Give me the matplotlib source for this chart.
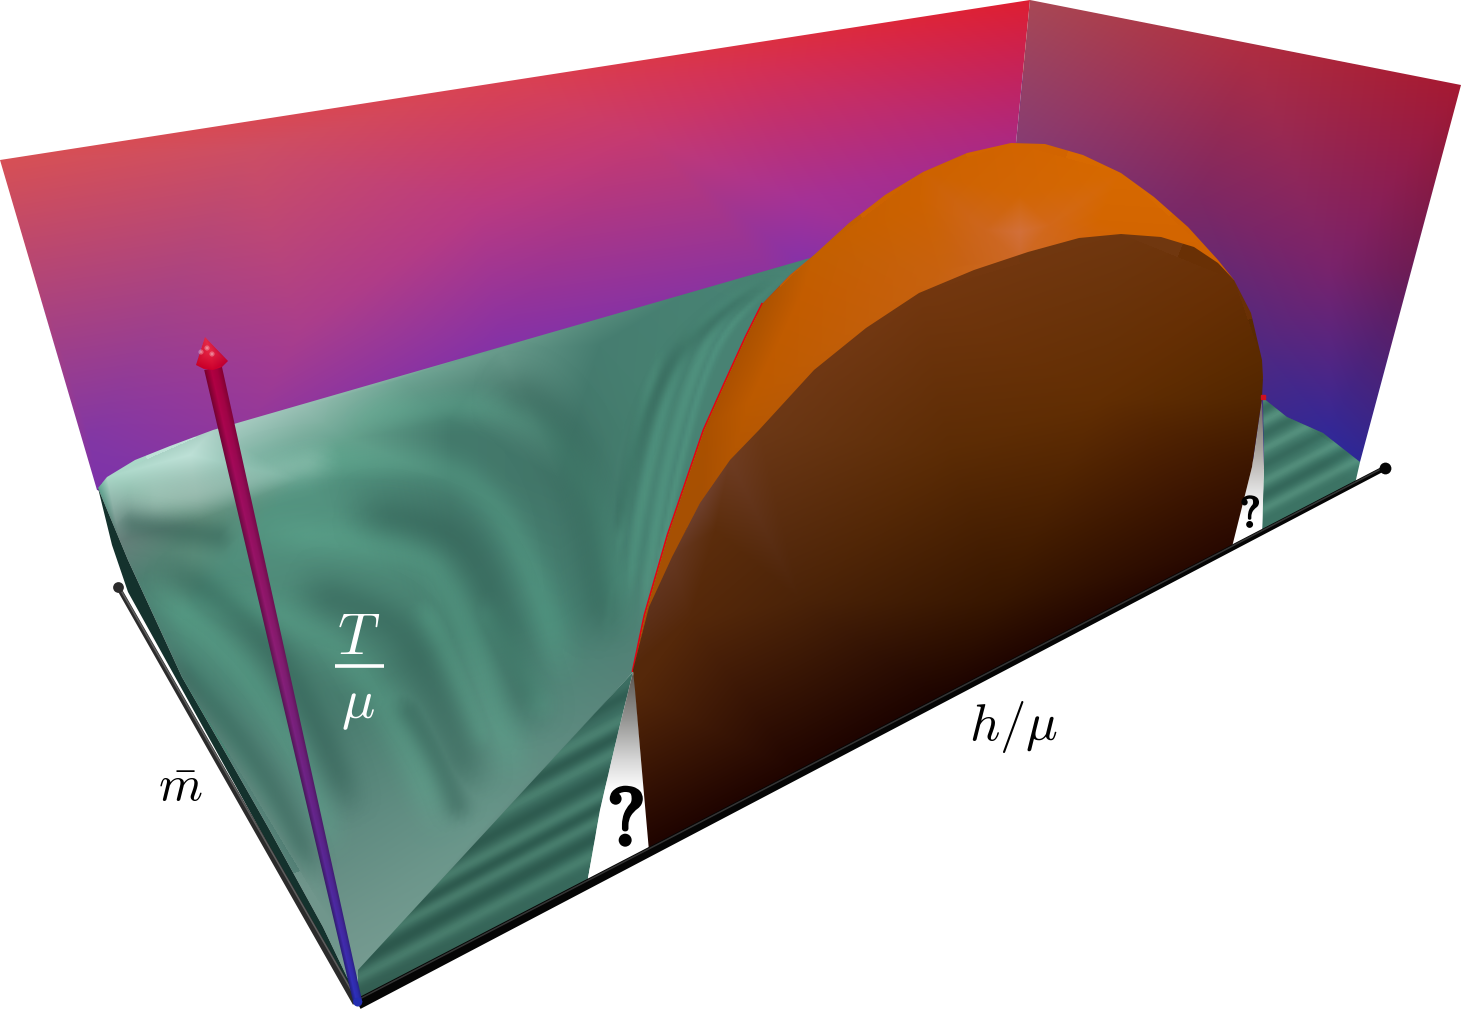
import numpy as np
import matplotlib
matplotlib.use("Agg")
import matplotlib.pyplot as plt
import matplotlib.patheffects as pe
from matplotlib.patches import Polygon, Circle
from matplotlib.tri import Triangulation, LinearTriInterpolator

W, H = 1461, 1009
plt.rcParams['mathtext.fontset'] = 'cm'

# ---------- outlines (picture coordinates) ----------
wall_left = [(0,160),(1030,0),(1016,143),(1016,300),(800,300),(200,520),(97,490)]
wall_right = [(1030,0),(1461,85),(1360,462),(1330,470),(1280,480),(1016,300),(1016,143)]
floor_back = [(98,488),(107,477),(135,460),(170,446),(213,430),(539,336),(810,258),(835,250)]
dome_left = [(633,672),(645,615),(668,535),(704,430),(725,383),(746,337),(763,303),(790,275),(814,255)]
floor_main = floor_back + dome_left[::-1] + [(358,975),(357,990),(347,977),(323,927),(268,827),(228,757),(182,677),(128,560)]
floor_side = [(98,488),(128,560),(182,677),(228,757),(268,827),(323,927),(347,977),(360,992),(350,992),(128,592),(112,545)]
floor_wedge = [(633,672),(358,970),(358,1003),(587,884),(600,810),(618,733)]
floor_right = [(1263,398),(1287,417),(1323,433),(1360,462),(1355,484),(1262,533),(1264,467)]
q_left = [(633,672),(618,733),(600,810),(587,884),(649,851),(641,760),(635,680)]
q_right = [(1262,398),(1252,467),(1232,547),(1262,533),(1264,467)]
dome_back = dome_left + [(849,223),(885,195),(923,172),(967,153),(1011,143),(1045,144),(1083,155),(1121,173),(1154,197),
             (1188,227),(1218,260),(1234,280),(1180,400),(700,700)]
dome_front = [(633,670),(649,607),(672,557),(700,503),(730,460),(759,430),(814,370),(866,328),(919,293),
              (974,270),(1028,252),(1079,238),(1121,234),(1161,237),(1194,247),(1218,263),(1234,280),
              (1251,313),(1262,360),(1263,377),(1262,398),(1252,467),(1232,547),(649,851),(641,760),(635,690)]
red_edge = dome_left[:7]

# ---------- colour samples ----------
wall_left_pts = [(0,160),(500,80),(1030,0),(1016,143),(640,135),(800,200),(300,330),(500,340),(800,262),
                 (90,440),(97,490),(1016,300),(200,520),(800,300),(250,150),(480,210),(760,70)]
wall_left_cols = [(215,80,85),(218,66,82),(222,30,50),(172,40,130),(198,58,112),(165,50,150),(170,62,140),
                  (135,50,165),(135,50,168),(130,55,165),(125,50,170),(130,45,165),(125,50,170),(130,50,168),
                  (205,78,100),(185,58,130),(212,48,85)]
wall_right_pts = [(1030,0),(1250,45),(1461,85),(1017,145),(1200,200),(1330,270),(1263,350),(1330,430),(1360,462),
                  (1280,480),(1016,300),(1410,270)]
wall_right_cols = [(168,72,85),(175,45,65),(165,25,50),(135,60,115),(125,40,100),(120,35,108),(80,40,130),
                   (52,40,150),(45,40,150),(40,40,155),(100,45,130),(110,28,85)]
floor_pts = [(98,488),(107,477),(190,455),(213,430),(300,408),(400,380),(500,350),(810,258),(300,480),(450,480),
             (560,480),(120,540),(200,520),(180,620),(350,700),(200,680),(300,800),(340,930),(360,970),(480,830),
             (633,672),(650,400),(740,300),(560,620),(130,590),(450,640),(640,560),(450,420),(350,440),(600,345),(600,312),(700,285)]
floor_cols = [(90,160,140),(170,215,200),(190,225,215),(172,208,198),(150,190,178),(112,165,148),(105,155,140),
              (72,130,116),(85,150,130),(68,122,108),(66,118,105),(105,130,125),(95,140,122),(78,138,120),(72,124,110),
              (78,136,120),(88,132,122),(112,150,140),(118,155,145),(105,150,138),(85,130,120),(70,128,112),(72,130,116),
              (72,130,115),(75,125,112),(72,128,112),(72,130,115),(68,122,108),(100,160,140),(70,125,112),(88,142,126),(72,130,115)]
wedge_pts = [(633,672),(358,970),(358,1003),(587,884),(618,733),(480,830)]
wedge_cols = [(62,112,100),(55,100,88),(50,92,80),(55,105,92),(58,108,96),(58,105,92)]
right_pts = [(1263,398),(1360,462),(1355,484),(1262,533),(1300,450)]
right_cols = [(70,125,110),(65,125,110),(60,115,100),(60,115,100),(65,120,105)]
orange_pts = [(633,670),(649,603),(704,430),(725,383),(763,303),(814,255),(923,172),(1011,143),(1121,173),(1218,260),
              (1234,280),(1020,232),(985,230),(1050,225),(1020,195),(800,300),(750,400),(920,200),(940,270),(1100,220),(700,560),
              (1020,260),(960,265),(1090,240)]
orange_cols = [(150,72,5),(165,80,5),(170,80,0),(172,80,0),(172,82,0),(195,95,0),(205,98,0),(210,100,0),(215,105,0),
               (210,100,0),(205,98,0),(210,112,58),(205,102,30),(210,104,25),(210,102,5),(195,92,0),(188,90,0),
               (205,98,0),(200,98,15),(212,102,0),(165,80,5),(205,105,40),(200,98,20),(210,100,10)]
brown_pts = [(1121,234),(759,430),(919,293),(1234,280),(1262,360),(1262,398),(672,557),(700,503),(633,670),(1232,547),
             (649,851),(640,760),(940,699),(950,450),(1000,600),(800,600),(1100,400),(715,530),(690,620),(1252,467),(800,774),
             (649,607),(730,460),(814,370),(866,328),(635,690)]
brown_cols = [(112,55,15),(108,56,22),(115,55,15),(105,48,5),(90,42,0),(82,38,0),(102,56,34),(110,64,46),(85,40,10),
              (40,8,0),(30,3,0),(62,24,5),(28,3,0),(92,44,5),(55,22,0),(75,35,8),(98,46,3),(92,45,12),(85,40,10),(60,22,0),(30,3,0),
              (95,50,28),(110,60,34),(112,56,20),(114,56,18),(85,40,10)]
qleft_pts = [(560,672),(700,672),(560,720),(700,720),(560,760),(700,760),(560,790),(700,790),(560,890),(700,890)]
qleft_cols = [(90,85,80),(90,85,80),(150,150,148),(150,150,148),(215,215,215),(215,215,215),(255,255,255),(255,255,255),(255,255,255),(255,255,255)]
qright_pts = [(1210,398),(1290,398),(1210,450),(1290,450),(1210,490),(1290,490),(1210,516),(1290,516),(1210,560),(1290,560)]
qright_cols = [(110,100,95),(110,100,95),(170,165,160),(170,165,160),(225,225,225),(225,225,225),(255,255,255),(255,255,255),(255,255,255),(255,255,255)]

# ---------- arrow ----------
arrow_base = (358, 1003)
arrow_top = (213, 368)
arrow_width_base = 9
arrow_width_top = 18
arrow_stops_t = [0.0, 0.1, 0.28, 0.54, 0.83, 1.0]
arrow_stops_c = [(40,45,175),(62,40,160),(92,35,132),(128,28,110),(150,10,85),(165,0,60)]
cone_outline = [(205,337),(196,365),(204,369),(213,370),(222,367),(228,361)]
cone_pts = [(205,337),(196,365),(213,370),(228,361),(210,350)]
cone_cols = [(225,40,70),(200,0,40),(205,0,45),(190,0,50),(232,40,70)]
cone_spots = [(207,348),(212,354),(201,352)]

# ---------- axes ----------
h_axis = [(358,1004),(1385,468)]
m_axis = [(356,1003),(118,587)]

# ---------- stripes: curve, width of the band ----------
light = [
 ([(220,470),(360,458),(447,468),(493,500),(525,557),(544,607),(570,700)], 13),
 ([(320,425),(420,408),(490,405),(550,430),(590,490),(612,570),(628,655)], 12),
 ([(230,530),(332,537),(424,553),(456,600),(480,660),(505,740),(525,800)], 14),
 ([(160,595),(270,610),(330,640),(385,700),(420,770),(450,850)], 14),
 ([(130,575),(200,625),(260,690),(310,780),(340,870)], 12),
 ([(415,593),(450,660),(492,760)], 10),
 ([(473,593),(510,650),(549,727)], 10),
 ([(800,262),(720,315),(690,380),(665,470),(650,560),(638,650)], 4.5),
 ([(805,260),(735,315),(705,370),(680,460),(660,560),(642,650)], 3),
 ([(795,263),(700,320),(670,380),(645,480),(630,570),(622,645)], 4.5),
 ([(665,340),(640,420),(625,500),(612,580),(605,650)], 4),
]
dark = [
 ([(470,385),(530,395),(570,450),(590,510),(600,600),(612,660)], 18),
 ([(330,508),(447,527),(480,565),(500,620),(520,680),(540,750)], 16),
 ([(280,582),(392,617),(425,670),(455,740),(480,810)], 16),
 ([(145,560),(210,590),(275,650),(320,730),(360,830)], 12),
 ([(150,640),(190,680),(240,740),(285,810),(320,890)], 10),
 ([(110,522),(170,530),(240,540)], 10),
 ([(790,268),(690,335),(650,400),(625,490),(610,570)], 6),
 ([(395,690),(440,760),(465,830)], 10),
]
wedge_offsets_light = [14, 42, 63, 95, 120, 165, 190]
wedge_offsets_dark = [28, 52, 78, 108, 140, 178]
right_offsets_light = [18, 42, 71, 96, 117]
right_offsets_dark = [30, 57, 84, 107]

fig = plt.figure(figsize=(W/100, H/100), dpi=100)
ax = fig.add_axes([0, 0, 1, 1])
ax.set_xlim(0, W); ax.set_ylim(H, 0); ax.axis('off')


def rgb(c):
    return tuple(v/255 for v in c)


def shade(outline, pts, cols, z):
    pts = np.array(pts, float); cols = np.array(cols, float)/255
    o = np.array(outline, float)
    x0, x1 = int(o[:,0].min())-1, int(o[:,0].max())+2
    y0, y1 = int(o[:,1].min())-1, int(o[:,1].max())+2
    X, Y = np.meshgrid(np.arange(x0, x1)+.5, np.arange(y0, y1)+.5)
    tri = Triangulation(pts[:,0], pts[:,1])
    img = np.zeros(X.shape+(3,))
    for c in range(3):
        v = LinearTriInterpolator(tri, cols[:,c])(X, Y)
        m = np.ma.getmaskarray(v)
        a = np.ma.getdata(v).copy()
        if m.any():
            d = (X[m,None]-pts[:,0])**2+(Y[m,None]-pts[:,1])**2
            a[m] = cols[d.argmin(1), c]
        img[...,c] = a
    im = ax.imshow(np.clip(img,0,1), extent=(x0,x1,y1,y0), interpolation='bilinear', aspect='auto', zorder=z)
    clip = Polygon(outline, closed=True, transform=ax.transData)
    im.set_clip_path(clip)
    ax.set_xlim(0, W); ax.set_ylim(H, 0)
    return clip


def smooth(p, n=3, spacing=2.5):
    p = np.array(p, float)
    for _ in range(n):
        q = [p[0]]
        for a, b in zip(p[:-1], p[1:]):
            q += [.75*a+.25*b, .25*a+.75*b]
        q.append(p[-1])
        p = np.array(q)
    L = np.r_[0, np.cumsum(np.hypot(*np.diff(p, axis=0).T))]
    s = np.linspace(0, L[-1], max(2, int(L[-1]/spacing)))
    return np.c_[np.interp(s, L, p[:,0]), np.interp(s, L, p[:,1])]


def bands(outline, curves, col, amp, z, step=3):
    """Soft bands: an alpha field falling off with distance from each curve."""
    o = np.array(outline, float)
    x0, x1 = o[:,0].min()-step, o[:,0].max()+step
    y0, y1 = o[:,1].min()-step, o[:,1].max()+step
    xs = np.arange(x0, x1, step); ys = np.arange(y0, y1, step)
    X, Y = np.meshgrid(xs.astype(np.float32), ys.astype(np.float32))
    A = np.zeros(X.shape, float)
    for c, w in curves:
        p = smooth(c).astype(np.float32)
        s = np.linspace(0, 1, len(p))
        fade = np.clip(np.minimum(s, 1-s)/.18, 0, 1)
        fade = fade*fade*(3-2*fade)
        d2 = (X[...,None]-p[:,0])**2+(Y[...,None]-p[:,1])**2
        i = d2.argmin(-1)
        A = np.maximum(A, np.exp(-d2.min(-1)/(2*w*w))*fade[i])
    img = np.zeros(X.shape+(4,))
    img[...,:3] = rgb(col)
    img[...,3] = A*amp
    im = ax.imshow(img, extent=(xs[0]-step/2, xs[-1]+step/2, ys[-1]+step/2, ys[0]-step/2),
                   interpolation='bilinear', aspect='auto', zorder=z)
    im.set_clip_path(Polygon(outline, closed=True, transform=ax.transData))
    ax.set_xlim(0, W); ax.set_ylim(H, 0)


shade(wall_left, wall_left_pts, wall_left_cols, 1)
shade(wall_right, wall_right_pts, wall_right_cols, 1)

shade(floor_main, floor_pts, floor_cols, 2)
bands(floor_main, light, (100,185,155), .28, 3)
bands(floor_main, dark, (45,90,80), .42, 3)
bands(floor_main, [([(120,500),(190,500),(260,478),(345,455)], 12)], (225,240,235), .22, 3)
ax.add_patch(Polygon(floor_side, closed=True, fc=rgb((20,50,45)), ec='none', zorder=2))

# wedge and right-hand strips: bands parallel to the long axis
ha = np.array(h_axis, float); d = (ha[1]-ha[0])/np.linalg.norm(ha[1]-ha[0])
nv = np.array((d[1], -d[0]))


def parallel(start, offs, length0, length1, w):
    out = []
    for o in offs:
        p = np.array(start, float)+nv*o
        out.append(([tuple(p-d*length0), tuple(p+d*length1)], w))
    return out


shade(floor_wedge, wedge_pts, wedge_cols, 4)
bands(floor_wedge, parallel((470,935), wedge_offsets_light, 500, 500, 4.5), (110,175,150), .32, 5, 2)
bands(floor_wedge, parallel((470,935), wedge_offsets_dark, 500, 500, 4.5), (30,70,60), .4, 5, 2)
shade(floor_right, right_pts, right_cols, 4)
bands(floor_right, parallel((1310,505), right_offsets_light, 300, 300, 3.5), (120,185,160), .35, 5, 2)
bands(floor_right, parallel((1310,505), right_offsets_dark, 300, 300, 3.5), (35,80,70), .35, 5, 2)

shade(q_left, qleft_pts, qleft_cols, 4)
shade(q_right, qright_pts, qright_cols, 4)

r = np.array(red_edge, float)
ax.plot(r[:,0]-.5, r[:,1], color='#e60014', lw=1.4, zorder=5, solid_capstyle='butt')
shade(dome_back, orange_pts, orange_cols, 6)
shade(dome_front, brown_pts, brown_cols, 7)
ax.plot([1263],[397], 's', ms=2.5, color='#d01020', zorder=8)

# arrow shaft
b = np.array(arrow_base, float); t = np.array(arrow_top, float)
u = (t-b)/np.linalg.norm(t-b); n = np.array((-u[1], u[0]))
spts, scols = [], []
for s, c in zip(arrow_stops_t, arrow_stops_c):
    w = arrow_width_base+(arrow_width_top-arrow_width_base)*s
    mid = b+(t-b)*s
    c = np.array(c, float)
    for o, f in ((-.5,.72),(-.12,1.08),(.2,1.0),(.5,.8)):
        spts.append(tuple(mid+n*w*o)); scols.append(tuple(np.clip(c*f,0,255)))
shaft = [tuple(b+n*arrow_width_base/2), tuple(t+n*arrow_width_top/2), tuple(t-n*arrow_width_top/2), tuple(b-n*arrow_width_base/2)]
shade(shaft, spts, scols, 9)
ax.add_patch(Circle(tuple(b+u*1), 4.5, fc='#232db0', ec='none', zorder=9))
shade(cone_outline, cone_pts, cone_cols, 10)
for sx, sy in cone_spots:
    ax.add_patch(Circle((sx,sy), 2.6, fc='white', ec='none', alpha=.28, zorder=11))
    ax.add_patch(Circle((sx,sy), 1.3, fc='white', ec='none', alpha=.25, zorder=11))

# axes rods
def rod(e, w0, w1, col, hi, z):
    e = np.array(e, float)
    v = (e[1]-e[0])/np.linalg.norm(e[1]-e[0]); m = np.array((-v[1], v[0]))
    ax.add_patch(Polygon([e[0]+m*w0/2, e[1]+m*w1/2, e[1]-m*w1/2, e[0]-m*w0/2], closed=True, fc=col, ec='none', zorder=z))
    s = 1 if m[1] < 0 else -1
    ax.plot(*np.array([e[0]+s*m*w0*.34, e[1]+s*m*w1*.2]).T, color=hi, lw=1.1, alpha=.6, zorder=z)
    ax.plot(*e[1], 'o', ms=w1*1.5+1, color=col, mew=0, zorder=z)

rod(m_axis, 7, 4.5, '#2b2b2b', '#808080', 8)
rod(h_axis, 11, 5, '#050505', '#555555', 8)
ax.set_xlim(0, W); ax.set_ylim(H, 0)

# labels
ax.text(359, 638, r'$T$', color='white', fontsize=42, ha='center', va='center', zorder=12)
ax.plot([335,384],[666,666], color='white', lw=2.6, zorder=12, solid_capstyle='butt')
ax.text(358, 705, r'$\mu$', color='white', fontsize=40, ha='center', va='center', zorder=12)
ax.text(1014, 727, r'$h/\mu$', color='black', fontsize=38, ha='center', va='center', zorder=12)
ax.text(180, 787, r'$\bar{m}$', color='black', fontsize=36, ha='center', va='center', zorder=12)
q1 = ax.text(625, 823, r'$\mathbf{?}$', color='black', fontsize=58, ha='center', va='center', zorder=12)
q1.set_path_effects([pe.withStroke(linewidth=3, foreground='black')])
q2 = ax.text(1250, 515, r'$\mathbf{?}$', color='black', fontsize=31, ha='center', va='center', zorder=12)
q2.set_path_effects([pe.withStroke(linewidth=1.6, foreground='black')])

fig.savefig('out.png', dpi=100, facecolor='white')
